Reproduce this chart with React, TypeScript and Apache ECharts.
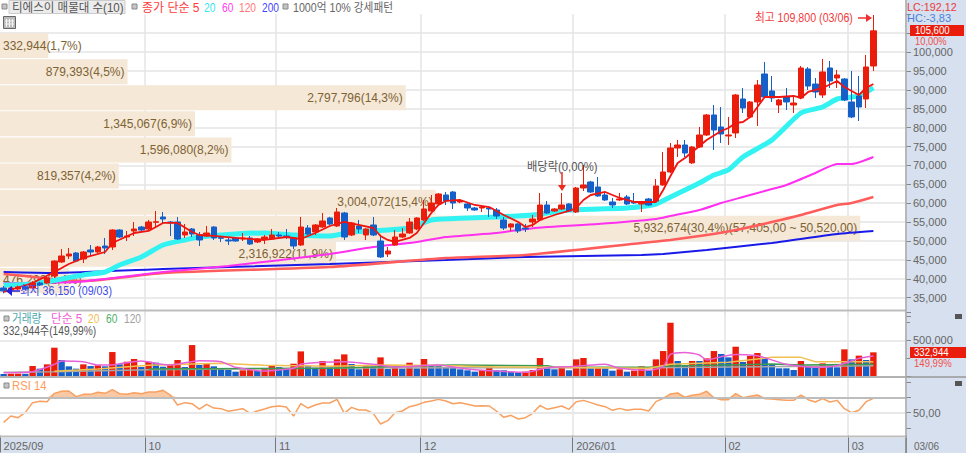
import React, { useEffect, useRef } from "react";
import * as echarts from "echarts";

const dates = [
"09/03","09/04","09/05","09/08","09/09","09/10","09/11","09/12","09/15","09/16","09/17","09/18","09/19","09/22","09/23","09/24","09/25","09/26","09/29","09/30",
"10/01","10/02","10/10","10/13","10/14","10/15","10/16","10/17","10/20","10/21","10/22","10/23","10/24","10/27","10/28","10/29","10/30","10/31",
"11/03","11/04","11/05","11/06","11/07","11/10","11/11","11/12","11/13","11/14","11/17","11/18","11/19","11/20","11/21","11/24","11/25","11/26","11/27","11/28",
"12/01","12/02","12/03","12/04","12/05","12/08","12/09","12/10","12/11","12/12","12/15","12/16","12/17","12/18","12/19","12/22","12/23","12/24","12/26","12/29","12/30",
"01/02","01/05","01/06","01/07","01/08","01/09","01/12","01/13","01/14","01/15","01/16","01/19","01/20","01/21","01/22","01/23","01/26","01/27","01/28","01/29","01/30",
"02/02","02/03","02/04","02/05","02/06","02/09","02/10","02/11","02/12","02/13","02/19","02/20","02/23","02/24","02/25","02/26","02/27",
"03/03","03/04","03/05","03/06",
"","","",""];
const monthStarts: Record<number, string> = { 0: "2025/09", 20: "10", 38: "11", 58: "12", 79: "2026/01", 100: "02", 117: "03" };

// open, close, low, high
const candles = [
[37570,36780,36150,38100],[37040,37570,36600,37900],[37305,37838,37000,38200],[37838,37305,37040,38100],[37574,38896,37300,39400],
[38896,38367,38100,39200],[38896,40220,38600,40500],[40742,44710,40200,44900],[44446,46032,44180,47885],[46032,46560,45240,48150],
[46825,44710,44400,47100],[45240,47090,44180,47355],[47620,47090,46030,48940],[47090,48410,46800,48700],[48675,48150,46560,50800],
[48410,52910,47620,53100],[52910,51060,50800,53100],[51060,51325,50000,52650],[52650,53175,51320,55030],[53700,52910,52650,54000],
[53175,55030,52650,55560],[54950,55100,53440,57940],[56350,55820,54760,57675],[55030,54760,51320,55300],[55030,50530,50270,56350],
[51590,52380,50800,54500],[53175,51850,51060,53440],[51590,50270,48680,52380],[51320,52115,51060,53970],[53700,50800,50270,53900],
[50880,50720,49740,51100],[50270,50000,48940,51060],[50800,50000,49800,51000],[50530,50800,50000,52115],[50800,49210,48940,51320],
[49740,50530,49475,50700],[50530,51060,49210,51590],[50530,51590,50400,53175],[51590,51320,50800,52380],[51320,51060,50530,53175],
[50800,48680,47885,51000],[48940,53700,48700,56350],[53440,51850,51590,54235],[52380,54235,51590,54500],[53700,55295,53500,57410],
[56090,54500,54200,56400],[53970,57675,53700,58730],[57410,51060,50270,57700],[51590,54760,51300,55000],[53970,53175,52115,55560],
[51590,53175,50270,53400],[54235,51590,51300,56350],[50000,45770,45500,51320],[46560,47355,45770,48410],[48940,51060,48700,52910],
[51060,51850,50800,53440],[52115,55030,51900,56090],[53175,56090,52900,56300],[55560,58470,55300,60850],[57940,60055,57700,62170],
[59790,62435,59500,62700],[62170,60585,59525,62960],[62960,60055,58470,63200],[60320,60585,60000,61100],[59790,58730,57940,60000],
[58730,58205,58000,59000],[58730,58995,57675,59300],[58730,58470,56350,59000],[58205,56615,55820,58730],[55560,53440,52910,56350],
[53700,54500,52650,54700],[54500,52650,52115,54700],[53440,53175,52380,54500],[55030,55820,53700,56880],[55560,59525,55300,62700],
[59525,57410,57200,60585],[57940,58470,57700,58700],[58470,59525,58200,62700],[59790,57940,57700,60000],[57675,64025,57400,64300],
[64025,64820,63230,70100],[65610,62960,62700,65900],[64290,61910,61700,66930],[62170,60850,60600,62960],[60320,59525,58730,61380],
[60850,61115,60600,62700],[61645,59790,59500,62170],[60320,60055,59800,62700],[59790,60320,57675,60600],[61115,59525,59300,61400],
[60585,64555,60300,66400],[64820,68255,64600,73550],[68255,74605,68000,75930],[74605,75400,72230,76720],[75400,73280,72230,76720],
[70660,74870,70400,75100],[74870,78045,74600,80160],[78045,83340,77800,83600],[83340,79365,74075,85980],[80160,78310,75930,85450],
[77780,78045,75400,82810],[78575,88630,77250,88890],[87570,85190,83860,90480],[82810,86780,82500,87000],[86780,91270,80430,92600],
[94180,88100,87800,97360],[89685,87835,86780,93650],[85980,87305,83860,87600],[88100,86780,84657,90480],[85980,86510,83860,88100],
[87835,95770,87500,96300],[95500,91000,89950,96000],[91530,89420,87835,93120],[88630,94710,87835,98150],[95770,92330,90480,97620],
[93120,93920,90480,95240],[92860,87305,87000,93100],[86780,82810,82500,94980],[88365,85450,81745,93650],[87570,96040,85190,99210],
[96300,105600,94980,109800],
];

const ma5 = [[0,36510],[4,38890],[7,41800],[9,43920],[11,45510],[14,47090],[15,49480],[18,52120],[20,52650],[22,54770],[24,54770],[26,52380],[27,51590],[29,51330],[32,50800],[36,50270],[39,51060],[41,50530],[43,52120],[45,53970],[47,55030],[49,54240],[51,53440],[52,51330],[53,50270],[54,49740],[56,50800],[57,52120],[58,54770],[59,57410],[60,59530],[61,60590],[63,60850],[65,59530],[67,58990],[69,56880],[71,55030],[72,53700],[73,54240],[74,55560],[76,56880],[78,57940],[79,58730],[80,60850],[81,62170],[83,62970],[85,61380],[87,60320],[90,60320],[91,63495],[92,67200],[93,70640],[94,71960],[95,73550],[97,76720],[99,79100],[100,79900],[101,81220],[102,81485],[103,82810],[104,85450],[105,88100],[107,88100],[109,88365],[110,87835],[111,89420],[113,90480],[115,92330],[116,90740],[118,88630],[119,90480],[120,91540]];
const ma20 = [[0,38360],[4,38630],[11,41010],[14,41800],[16,43650],[19,45770],[22,48945],[25,50270],[27,51060],[32,51850],[36,52120],[40,51590],[45,51330],[48,52380],[53,52910],[56,53440],[59,55560],[64,56090],[68,56350],[73,56880],[78,58205],[82,58470],[86,58730],[90,59790],[92,61645],[96,65350],[98,67460],[100,68785],[102,72225],[106,76720],[110,83870],[113,85450],[115,87570],[118,88365],[120,90480]];
const ma60 = [[0,38890],[10,39160],[14,39950],[22,41800],[31,43390],[45,46560],[51,48415],[57,49740],[61,51060],[68,52120],[71,52910],[75,53705],[82,54500],[90,55825],[92,56620],[96,58205],[99,60055],[102,61645],[105,63230],[108,64820],[112,67995],[115,70375],[117,70375],[120,72225]];
const ma120 = [[0,41275],[3,40745],[8,39685],[11,39420],[22,41540],[45,43125],[61,45505],[72,46300],[88,49475],[92,50270],[97,51590],[101,52910],[106,55030],[110,56880],[115,59530],[117,60055],[120,61645]];
const ma200 = [[0,41800],[7,41540],[22,42600],[45,43920],[61,44975],[72,45770],[88,46300],[91,46565],[97,47620],[106,49475],[115,51855],[120,52650]];

const volumes = [
28000,30000,33000,31000,140000,103000,164000,398000,225000,136000,103000,164000,140000,150000,136000,337000,164000,201000,239000,126000,
201000,187000,131000,164000,225000,126000,435000,155000,178000,136000,108000,84000,61000,80000,82000,70000,108000,140000,126000,108000,
173000,346000,145000,117000,211000,136000,234000,304000,169000,94000,136000,136000,262000,98000,140000,103000,187000,108000,239000,155000,
155000,122000,122000,94000,80000,61000,80000,136000,80000,80000,61000,52000,61000,84000,253000,108000,94000,131000,80000,234000,
253000,108000,110000,108000,75000,94000,61000,75000,136000,80000,234000,351000,749000,211000,145000,211000,211000,248000,351000,309000,
262000,412000,197000,281000,323000,258000,164000,108000,108000,84000,211000,140000,117000,178000,150000,122000,375000,234000,286000,225000,
332944,
];
const volMa5 = [[0,47000],[4,61000],[7,164000],[8,211000],[11,201000],[13,155000],[15,155000],[16,173000],[19,211000],[21,178000],[23,155000],[27,215000],[30,201000],[32,122000],[36,70000],[40,108000],[41,164000],[44,192000],[47,201000],[51,164000],[54,126000],[60,155000],[64,98000],[68,70000],[72,52000],[75,117000],[79,136000],[83,164000],[85,108000],[89,80000],[91,131000],[92,304000],[94,332000],[96,295000],[97,225000],[99,272000],[101,304000],[104,286000],[105,258000],[108,164000],[112,122000],[115,145000],[118,248000],[120,281000]];
const volMa20 = [[7,66000],[13,98000],[20,150000],[30,178000],[36,150000],[45,136000],[53,155000],[62,145000],[68,126000],[75,122000],[89,108000],[92,164000],[100,192000],[106,262000],[110,262000],[112,201000],[120,201000]];
const volMa60 = [[20,98000],[45,108000],[62,155000],[75,145000],[76,126000],[89,122000],[92,140000],[106,169000],[110,155000],[120,164000]];
const volMa120 = [[0,52000],[7,61000],[20,89000],[45,112000],[89,117000],[120,145000]];

const rsi = [
37.3,45.6,43.4,50.4,63.2,64.9,64.5,75.4,78.1,78.5,71.1,74.1,74.1,76.8,75.4,80.3,75,74.1,76.3,75,
77.2,77.2,79.4,73.2,60.1,63.2,61.8,54.8,61,56.1,55.3,51.8,53.5,55.3,49.1,52.2,54.8,57.9,58.8,57.5,
45.6,61.8,56.1,60.1,62.7,62.7,67.5,49.1,57,53.5,53.5,49.1,35.1,39.5,50,52.2,57.9,60.1,63.6,65.4,
67.5,65.4,61.8,63.2,61,58.8,59.2,58.8,52.2,43.9,46.5,41.7,43.4,49.1,59.6,54.4,56.6,58.8,54.4,64.5,
66.2,63.2,60.1,57.9,53.1,55.7,53.1,54.4,54.4,52.2,64.5,68.9,74.6,75.9,70.2,72.8,74.1,78.1,69.7,67.1,
67.1,75,69.7,71.5,73.2,68.4,68,67.1,66.2,66.2,73.2,67.1,64,68.4,64,66.2,55.3,50,53.1,64.5,68.9,
];

const profileVolumes = [332944,879393,2797796,1345067,1596080,819357,3004072,5932674,2316922,476290];
const profileLabels = ["332,944(1,7%)","879,393(4,5%)","2,797,796(14,3%)","1,345,067(6,9%)","1,596,080(8,2%)","819,357(4,2%)","3,004,072(15,4%)","5,932,674(30,4%)(57,405,00 ~ 50,520,00)","2,316,922(11,9%)","476,290(2,4%)"];

const FONT = '"Liberation Sans","Noto Sans CJK KR",sans-serif';
const RED = "#ea1d0c";
const BLUE = "#1460c8";
const PANEL = "#d6e0ee";
const GREY = "#666666";

const txt = (text: string, x: number, y: number, fill: string, size = 12, scaleX = 1) => ({
  type: "text", x, y, scaleX, z: 20, silent: true,
  style: { text, fill, fontFamily: FONT, fontSize: size, verticalAlign: "middle" },
});
const box = (x: number, y: number, w: number, h: number, fill: string, stroke?: string, z = 20) => ({
  type: "rect", z, silent: true, shape: { x, y, width: w, height: h }, style: { fill, stroke: stroke || "none", lineWidth: 1 },
});
const ln = (x1: number, y1: number, x2: number, y2: number, stroke: string, w = 1, z = 20) => ({
  type: "line", z, silent: true, shape: { x1, y1, x2, y2 }, style: { stroke, lineWidth: w },
});
const sq = (x: number, y: number) => box(x, y, 5, 5, "#c4c4c4", "#8a8a8a");

const graphics: any[] = [
  box(906, 0, 60, 453, PANEL, undefined, -5),
  box(0, 438, 966, 15, PANEL, undefined, -5),
  ln(0, 310.5, 906, 310.5, "#bdbdbd", 2, 12),
  ln(0, 377, 966, 377, "#999999", 1.5, 12),
  ln(0, 436.5, 906, 436.5, "#bdbdbd", 2, 12),
  ln(906, 0, 906, 453, "#a8a8a8", 1.5, 12),
  sq(2, 4),
  box(9, 0.5, 116, 13, "#ececec", "#cccccc", 15),
  txt("티에스이 매물대 수(10)", 12, 7.5, "#555555", 12, 0.96),
  sq(132, 4),
  txt("종가 단순 5", 142, 7.5, "#ff3b3b", 12, 1),
  txt("20", 204, 7.5, "#33e8f0", 12, 0.85),
  txt("60", 222, 7.5, "#ff3cf0", 12, 0.85),
  txt("120", 239, 7.5, "#ff7878", 12, 0.85),
  txt("200", 262, 7.5, "#4646ff", 12, 0.85),
  sq(283, 4),
  txt("1000억 10% 강세패턴", 293, 7.5, GREY, 12, 0.89),
  box(3.5, 16.5, 12, 12, "#bcbcbc", "#666666"),
  ln(6.5, 19, 6.5, 27, "#f4f4f4"), ln(9.5, 19, 9.5, 27, "#f4f4f4"), ln(12.5, 19, 12.5, 27, "#f4f4f4"),
  ln(5, 21, 14, 21, "#f4f4f4"), ln(5, 24, 14, 24, "#f4f4f4"),
  txt("최고 109,800 (03/06)", 755, 18, "#f03c3c", 12, 0.89),
  ln(858, 18, 868, 18, "#f03030", 1.5),
  { type: "polygon", z: 20, silent: true, shape: { points: [[866, 14], [872, 18], [866, 22]] }, style: { fill: "#f03030" } },
  txt("최저 36,150 (09/03)", 20, 291, "#3a48e8", 12, 0.89),
  ln(10, 291, 20, 291, "#2020e0", 1.5),
  { type: "polygon", z: 20, silent: true, shape: { points: [[12, 286], [6, 291], [12, 296]] }, style: { fill: "#2020e0" } },
  txt("배당락(0,00%)", 527, 166, "#555555", 12, 0.94),
  ln(562, 172, 562, 186, "#ee2a1a", 1.5),
  { type: "polygon", z: 20, silent: true, shape: { points: [[558, 185], [566, 185], [562, 191]] }, style: { fill: "#ee2a1a" } },
  txt("LC:192,12", 907, 6.5, "#ee3a3a", 11, 0.98),
  txt("HC:-3,83", 907, 17.5, "#4a80dc", 11, 1),
  box(910, 25, 54, 11, RED),
  txt("105,600", 915, 30.5, "#ffffff", 11, 0.87),
  txt("10,00%", 915, 41, "#f05050", 11, 0.85),
  sq(4, 316),
  txt("거래량", 12, 319, "#4aa8ae", 12, 0.89),
  txt("단순 5", 51, 319, "#f060d8", 12, 0.97),
  txt("20", 88, 319, "#f0c050", 12, 0.85),
  txt("60", 106, 319, "#50b068", 12, 0.85),
  txt("120", 124, 319, "#a0a0a0", 12, 0.85),
  txt("332,944주(149,99%)", 3, 331, "#555555", 12, 0.85),
  box(910, 347, 56, 11, RED),
  txt("332,944", 914, 352.5, "#ffffff", 11, 0.87),
  txt("149,99%", 914, 363.5, "#f05050", 11, 0.87),
  box(955, 314, 7, 5, "#555555"),
  box(955, 381, 7, 5, "#555555"),
  sq(4, 383),
  txt("RSI 14", 12, 385, "#ff9a5c", 12, 0.94),
  txt("03/06", 914, 445.5, GREY, 11, 0.91),
  ln(906, 438, 906, 453, "#777777", 1),
];

const monthIdx = (i: number) => monthStarts[i] !== undefined;
const monthSplit = (i: number) => i !== 0 && monthStarts[i] !== undefined;

const categoryX = (gridIndex: number, labels = false) => ({
  type: "category", gridIndex, data: dates, boundaryGap: true,
  axisLine: { show: false },
  axisTick: labels ? { show: true, interval: monthIdx, length: 17, lineStyle: { color: "#777777" } } : { show: false },
  axisLabel: labels
    ? { show: true, interval: monthIdx, align: "left", margin: 4, color: GREY, fontSize: 11, lineHeight: 13, fontFamily: FONT, formatter: (_: string, i: number) => monthStarts[i] || "" }
    : { show: false },
  splitLine: { show: true, interval: monthSplit, lineStyle: { color: "#e4e4e4", width: 1.5 } },
});

const lineS = (name: string, data: any, color: string, width: number, z: number, xAxisIndex = 0, yAxisIndex = 0, smooth: any = false) => ({
  name, type: "line", data, xAxisIndex, yAxisIndex, z, symbol: "none", silent: true, smooth,
  lineStyle: { color, width }, itemStyle: { color },
});

const option: any = {
  animation: false,
  textStyle: { fontFamily: FONT },
  graphic: graphics,
  grid: [
    { left: 0, top: 14.2, width: 906, height: 302.4 },
    { left: 0, top: 312, width: 906, height: 64 },
    { left: 0, top: 377.7, width: 906, height: 57.8 },
    { left: 0, top: 32.5, width: 906, height: 261 },
  ],
  xAxis: [
    categoryX(0),
    categoryX(1),
    categoryX(2, true),
    { type: "value", gridIndex: 3, min: 0, max: 6248000, show: false, splitLine: { show: false } },
  ],
  yAxis: [
    {
      type: "value", gridIndex: 0, position: "right", min: 30000, max: 110000, interval: 5000,
      axisLine: { show: false },
      axisTick: { show: true, length: 5, inside: false, lineStyle: { color: "#888888" } },
      axisLabel: { margin: 7, color: GREY, fontSize: 11, fontFamily: FONT, formatter: (v: number) => (v > 100000 || v < 35000 ? "" : v.toLocaleString("en-US")) },
      splitLine: { show: true, showMinLine: false, showMaxLine: false, lineStyle: { color: "#e4e4e4", width: 1.5 } },
    },
    {
      type: "value", gridIndex: 1, position: "right", min: 0, max: 900000, interval: 500000,
      axisLine: { show: false },
      axisTick: { show: true, length: 5, lineStyle: { color: "#888888" } },
      minorTick: { show: true, splitNumber: 2, length: 4, lineStyle: { color: "#888888" } },
      axisLabel: { margin: 7, color: GREY, fontSize: 11, fontFamily: FONT, formatter: (v: number) => (v === 500000 ? "500,000" : "") },
      splitLine: { show: true, showMinLine: false, showMaxLine: false, lineStyle: { color: "#e4e4e4", width: 1.5 } },
    },
    {
      type: "value", gridIndex: 2, position: "right", min: 20, max: 96,
      axisLine: { show: false },
      axisTick: { show: true, length: 5, customValues: [30, 50, 70, 90], lineStyle: { color: "#888888" } },
      axisLabel: { margin: 7, color: GREY, fontSize: 11, fontFamily: FONT, customValues: [50], formatter: () => "50,00" },
      splitLine: { show: false },
    },
    { type: "category", gridIndex: 3, inverse: true, show: false, data: profileLabels, splitLine: { show: false } },
  ],
  series: [
    {
      type: "bar", xAxisIndex: 3, yAxisIndex: 3, z: 1, barWidth: 25, silent: true,
      data: profileVolumes.map((value) => ({
        value,
        label: { position: value < 500000 ? "insideLeft" : "insideRight", distance: 3 },
      })),
      itemStyle: { color: "#f5e8d7" },
      label: { show: true, color: "#7d6233", fontSize: 12, fontFamily: FONT, formatter: (p: any) => profileLabels[p.dataIndex] },
    },
    lineS("MA200", ma200, "#1a1ae8", 2, 3, 0, 0, 0.2),
    lineS("MA120", ma120, "#ff5c5c", 2.6, 3, 0, 0, 0.2),
    lineS("MA60", ma60, "#ff30f0", 2, 3, 0, 0, 0.2),
    lineS("MA20", ma20, "#33f2f2", 5, 3, 0, 0, 0.2),
    {
      type: "candlestick", xAxisIndex: 0, yAxisIndex: 0, z: 4, barWidth: 6, silent: true,
      data: candles,
      itemStyle: { color: RED, color0: BLUE, borderColor: RED, borderColor0: BLUE, borderWidth: 1 },
    },
    lineS("MA5", ma5, "#f01410", 1.8, 5),
    {
      type: "bar", xAxisIndex: 1, yAxisIndex: 1, z: 3, barWidth: 6.4, silent: true,
      data: volumes.map((value, i) => ({
        value,
        itemStyle: { color: i > 0 && value > volumes[i - 1] ? RED : BLUE },
      })),
    },
    lineS("VMA120", volMa120, "#a8a8a8", 1.5, 4, 1, 1),
    lineS("VMA60", volMa60, "#3c9a50", 1.5, 4, 1, 1),
    lineS("VMA20", volMa20, "#f0c050", 1.5, 4, 1, 1),
    lineS("VMA5", volMa5, "#e860d8", 1.5, 4, 1, 1, 0.2),
    {
      name: "RSI>70", type: "line", xAxisIndex: 2, yAxisIndex: 2, z: 3, symbol: "none", silent: true,
      data: rsi.map((v) => Math.max(v, 70)),
      lineStyle: { width: 0 },
      areaStyle: { color: "#f9c8a4", origin: 70, opacity: 1 },
      markLine: {
        silent: true, symbol: "none", label: { show: false },
        data: [
          { yAxis: 70, lineStyle: { color: "#bdbdbd", width: 2, type: "solid" } },
          { yAxis: 50, lineStyle: { color: "#e8e8e8", width: 2, type: "solid" } },
        ],
      },
    },
    lineS("RSI", rsi, "#f8a060", 1.5, 4, 2, 2),
  ],
};

export default function App() {
  const ref = useRef<HTMLDivElement>(null);
  useEffect(() => {
    const chart = echarts.init(ref.current!, undefined, { renderer: "svg" });
    chart.setOption(option);
    return () => chart.dispose();
  }, []);
  return <div ref={ref} style={{ position: "fixed", left: 0, top: 0, width: 966, height: 453, background: "#ffffff" }} />;
}
